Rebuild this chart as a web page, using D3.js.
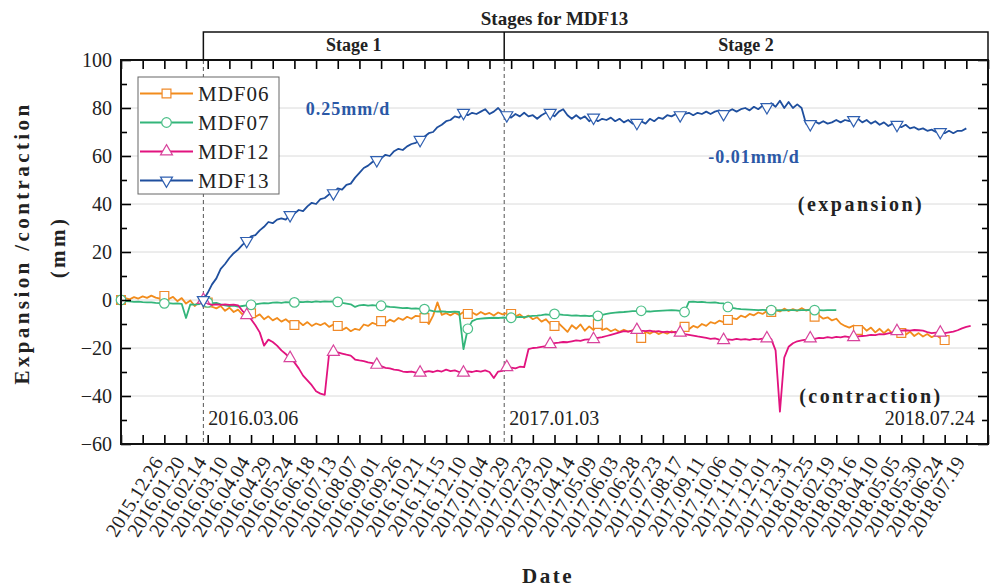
<!DOCTYPE html>
<html>
<head>
<meta charset="utf-8">
<script src="https://cdn.jsdelivr.net/npm/d3@7"></script>
<style>
  body { margin: 0; background: #fff; }
  text { font-family: "Liberation Serif", "Times New Roman", serif; }
</style>
</head>
<body>
<script>
// ---- data (one value every 5 days, day 0 = left edge of the axis) ----
var dayStep = 5;
var markerEvery = 10;   // one marker every 50 days

var xTickLabels = ["2015.12.26","2016.01.20","2016.02.14","2016.03.10","2016.04.04","2016.04.29",
  "2016.05.24","2016.06.18","2016.07.13","2016.08.07","2016.09.01","2016.09.26","2016.10.21",
  "2016.11.15","2016.12.10","2017.01.04","2017.01.29","2017.02.23","2017.03.20","2017.04.14",
  "2017.05.09","2017.06.03","2017.06.28","2017.07.23","2017.08.17","2017.09.11","2017.10.06",
  "2017.11.01","2017.12.01","2017.12.31","2018.01.25","2018.02.19","2018.03.16","2018.04.10",
  "2018.05.05","2018.05.30","2018.06.24","2018.07.19"];
var firstLabelTick = 2;

var yMajor = [-60, -40, -20, 0, 20, 40, 60, 80, 100];
var yMinor = [-50, -30, -10, 10, 30, 50, 70, 90];

var stageNames = ["Stage 1", "Stage 2"];
var stageDays = [95, 442];
var stageDates = ["2016.03.06", "2017.01.03"];
var endDate = "2018.07.24";

var mdf06Start = 0;
var mdf06 = [
  0, 0.8, 0.3, 1.2, 0.6, 1.5, 0.9, 1.8, 1, 0.6,
  1.7, 0.4, 1.3, -0.5, 0.8, -1.5, -0.2, -2.5, -0.8, -2,
  -1, -2.8, -3.5, -2.5, -4.5, -3.2, -5, -4, -6, -4.8,
  -5.5, -7, -6, -8, -6.8, -8.5, -7.5, -9, -8, -9.5,
  -10.4, -9, -10.5, -9.2, -10.8, -9.8, -10.5, -9.6, -11.2, -10.2,
  -10.8, -12.5, -11.5, -13, -12, -12.5, -10.2, -10.8, -9.5, -10.2,
  -8.8, -9.6, -8.2, -9, -7.5, -8.3, -7, -7.8, -6.6, -6.8,
  -7.5, -10, -6.5, -1, -6.2, -5.5, -6.4, -5.3, -6.2, -5,
  -5.8, -5.2, -6.2, -5, -6, -5.4, -6.5, -5.2, -6, -5.5,
  -5.8, -6.8, -6, -7.5, -6.5, -8, -7.2, -9, -8, -10,
  -10.8, -9.8, -11.5, -13.3, -10.5, -12, -10.2, -12.8, -11, -12.5,
  -10, -12.5, -11.8, -13, -12.2, -13.3, -12.4, -13.2, -12.6, -13.5,
  -15.8, -13.2, -14, -13, -14.2, -13.4, -14, -13, -13.8, -12.5,
  -11.2, -12.2, -10.8, -11.5, -10, -10.8, -9.2, -9.8, -8.6, -9.2,
  -8.3, -7.6, -8, -6.5, -7.2, -5.8, -6.4, -5.2, -5.8, -4.6,
  -5, -4.2, -4.8, -3.6, -4.6, -3.8, -4.5, -3.4, -4.4, -3.9,
  -7, -6.5, -7.8, -7.2, -8.5, -7.8, -9.8, -10.8, -11.5, -10.6,
  -12.5, -11, -12.8, -11.5, -13.5, -12, -13.8, -12.2, -14, -12.8,
  -13.75, -14.5, -13.2, -15, -13.8, -15.2, -14.2, -15.5, -14.6, -15.8,
  -16.7, -15.5
];

var mdf07Start = 0;
var mdf07 = [
  0, -0.5, -0.6, -0.8, -0.7, -0.9, -1, -1, -1.2, -1.3,
  -1.4, -1.3, -1.5, -1.4, -1.6, -7.5, -1.8, -1.9, -1.7, -0.8,
  -1, -1.3, -1.2, -1.8, -2.2, -2.5, -2.3, -2.8, -2.5, -2.2,
  -2, -1.8, -1.5, -1.3, -1.4, -1.1, -1, -1.2, -0.9, -1,
  -1, -0.8, -0.9, -0.7, -0.9, -0.6, -0.8, -0.6, -0.7, -0.6,
  -0.8, -1.2, -1.5, -1.8, -2.9, -2.2, -2, -2.3, -2.1, -2.3,
  -2.4, -2.6, -2.9, -3, -3.2, -3.4, -3.3, -3.6, -3.5, -3.7,
  -3.8, -4.2, -4.6, -4.8, -4.7, -4.9, -5, -4.8, -5, -20.5,
  -12, -8.8, -8, -7.8, -7.6, -7.5, -7.4, -7.5, -7.3, -7.4,
  -7.4, -7.2, -7, -7.1, -6.8, -6.6, -6.5, -6.3, -6, -6.2,
  -5.8, -6, -6.2, -6.3, -6.5, -6.4, -6.6, -6.5, -6.7, -6.5,
  -6.6, -6.2, -5.8, -5.5, -5.3, -5.1, -5, -4.8, -4.6, -4.6,
  -4.5, -4.7, -4.8, -4.6, -4.5, -4.4, -4.3, -4.2, -4.3, -4.5,
  -5, -0.8, -0.7, -0.9, -0.8, -1, -1.1, -1, -1.3, -1.4,
  -2.9, -3.3, -3.6, -3.8, -3.9, -4, -4.1, -4.2, -4.1, -4.2,
  -4.2, -4.3, -4.2, -4.3, -4.2, -4.2, -4.3, -4.2, -4.2, -4.1,
  -4.2, -4.2, -4.3, -4.2, -4.2, -4.2
];

var mdf12Start = 95;
var mdf12 = [
  0, -1.5, -2, -1.8, -2, -1.8, -2, -1.9, -2.2, -4.5,
  -6.3, -8, -10.5, -13.5, -19, -16.5, -17.5, -19, -21, -22.5,
  -24.2, -26, -28.5, -31.5, -33.5, -35.5, -38, -39, -39.5, -22.5,
  -21.6, -21.8, -22.3, -22.8, -23.2, -24.8, -25.2, -25.5, -26, -26.3,
  -27, -27.5, -28.3, -28.5, -29, -29.2, -29.8, -30, -29.8, -30.3,
  -30.3, -30, -29.6, -30, -29.4, -29.8, -29, -29.6, -29.3, -30,
  -30.3, -29.7, -30, -29.5, -29.8, -29.3, -30, -32.5, -29.8, -29.5,
  -28, -28.2, -28.5, -27.8, -28, -20.5, -20, -19.8, -19.5, -19.2,
  -18.4, -18, -17.8, -17.5, -17.6, -17.2, -16.8, -17, -16.5, -16.4,
  -16.3, -15.8, -15.5, -15, -14.5, -14, -13.5, -13, -13.2, -12.8,
  -12.5, -12.8, -13, -12.8, -13.2, -13, -13.4, -13.2, -13.5, -13.3,
  -13.6, -14.2, -14.5, -14.8, -15.2, -15.5, -15.8, -16.2, -16, -16.5,
  -16.7, -16.4, -16.6, -16.2, -16.5, -16.3, -16.6, -16.2, -16.4, -16.1,
  -16, -16.3, -21, -46.5, -24, -19.5, -18, -17.2, -16.8, -16.5,
  -16, -16.2, -15.8, -15.9, -15.5, -15.8, -15.4, -15.6, -15.2, -15.5,
  -15.5, -15.2, -15, -14.8, -14.5, -14.6, -14.2, -14.3, -13.9, -13.6,
  -13, -12.8, -12.6, -12.8, -12.5, -12.6, -12.8, -13.4, -13.8, -13.6,
  -13.6, -13.8, -13.5, -13.2, -12.6, -11.8, -11.2, -10.8
];

var mdf13Start = 95;
var mdf13 = [
  0, 3, 6.5, 9, 13, 15, 17.5, 19.5, 21, 23,
  24.6, 26.5, 27, 29, 30.5, 32.5, 32, 33.5, 34, 33.5,
  35.4, 36, 37.5, 37, 39, 40.5, 40, 42, 42.5, 44,
  44.5, 46.5, 46, 48, 48.5, 51, 53, 55, 56, 57.5,
  58.3, 59, 60.5, 60, 62, 63, 62.5, 64, 65, 65.5,
  66.7, 68, 69.5, 70, 72, 73, 74.5, 75, 76.5, 76,
  78, 77, 78, 77.5, 78.5, 79.5, 77.5, 78.5, 80, 78,
  77, 76, 77.5, 76.5, 78, 76.5, 77, 75.5, 77, 78,
  78, 76.5, 78.5, 79.5, 77, 75.5, 77, 75.5, 76.5, 74.5,
  76, 74.5, 75.5, 75, 76, 74.5, 75.5, 74, 75, 73.5,
  73.8, 74.5, 73.5, 75.5, 74.5, 76, 75.5, 77, 76.5, 77.5,
  77, 77.5, 78, 77, 78, 77.5, 78.5, 77.5, 78.5, 79,
  77.5, 78.5, 79.5, 78.5, 79.5, 80, 79, 80.5, 79.5, 81,
  80.4, 82, 80.5, 83, 80, 82.5, 80, 81.5, 80, 73.5,
  73.3, 74.5, 73.5, 74.5, 73.5, 74, 75, 74, 75, 74.5,
  75, 75.5, 74, 75, 73.5, 74.5, 73, 74, 72.5, 73.5,
  73, 72, 73, 71.5, 72, 71, 71.5, 70.5, 71, 70,
  70, 69.5, 70.5, 69.5, 70.5, 70.5, 71.5
];

var seriesNames = ["MDF06", "MDF07", "MDF12", "MDF13"];
var seriesColors = ["#f28c1c", "#33b57a", "#e2137f", "#1f4f9e"];
var markerColors = ["#f08a2a", "#4cbf88", "#d8449c", "#2f5fb0"];

var series = [
  {name: seriesNames[0], start: mdf06Start, values: mdf06, color: seriesColors[0], marker: markerColors[0], shape: d3.symbolSquare, size: 78, rot: 0},
  {name: seriesNames[1], start: mdf07Start, values: mdf07, color: seriesColors[1], marker: markerColors[1], shape: d3.symbolCircle, size: 72, rot: 0},
  {name: seriesNames[2], start: mdf12Start, values: mdf12, color: seriesColors[2], marker: markerColors[2], shape: d3.symbolTriangle, size: 62, rot: 0},
  {name: seriesNames[3], start: mdf13Start, values: mdf13, color: seriesColors[3], marker: markerColors[3], shape: d3.symbolTriangle, size: 62, rot: 180}
];

// ---- layout ----
var width = 993;
var height = 587;

var x = d3.scaleLinear().domain([0, 1000]).range([121, 988]);
var y = d3.scaleLinear().domain([-60, 100]).range([444, 60]);

var svg = d3.select("body").append("svg")
            .attr("width", width)
            .attr("height", height);

svg.append("rect").attr("width", width).attr("height", height).attr("fill", "#fff");

// horizontal grid
svg.append("g").selectAll("line")
   .data(yMajor.slice(1, -1))
   .enter().append("line")
   .attr("x1", x.range()[0]).attr("x2", x.range()[1])
   .attr("y1", function(d){ return y(d); })
   .attr("y2", function(d){ return y(d); })
   .attr("stroke", "#dadada")
   .attr("stroke-width", 1);

// stage boundaries
svg.append("g").selectAll("line")
   .data(stageDays)
   .enter().append("line")
   .attr("x1", function(d){ return x(d); })
   .attr("x2", function(d){ return x(d); })
   .attr("y1", y.range()[1]).attr("y2", y.range()[0])
   .attr("stroke", "#555")
   .attr("stroke-width", 1)
   .attr("stroke-dasharray", "4,3");

svg.append("g").selectAll("text")
   .data(stageDates)
   .enter().append("text")
   .attr("x", function(d, i){ return x(stageDays[i]) + 5; })
   .attr("y", 425)
   .attr("font-size", 20)
   .attr("fill", "#222")
   .text(function(d){ return d; });

var lastDay = mdf12Start + (mdf12.length - 1) * dayStep;
svg.append("text")
   .attr("x", x(lastDay) + 4)
   .attr("y", 425)
   .attr("text-anchor", "end")
   .attr("font-size", 20)
   .attr("fill", "#222")
   .text(endDate);

// series
var line = d3.line()
             .x(function(d){ return x(d[0]); })
             .y(function(d){ return y(d[1]); });

series.forEach(function(s){
  var pts = s.values.map(function(v, i){ return [s.start + i * dayStep, v]; });

  svg.append("path")
     .datum(pts)
     .attr("d", line)
     .attr("fill", "none")
     .attr("stroke", s.color)
     .attr("stroke-width", 1.8)
     .attr("stroke-linejoin", "round");

  svg.append("g").selectAll("path")
     .data(pts.filter(function(d, i){ return i % markerEvery === 0; }))
     .enter().append("path")
     .attr("d", d3.symbol().type(s.shape).size(s.size))
     .attr("transform", function(d){ return "translate(" + x(d[0]) + "," + y(d[1]) + ") rotate(" + s.rot + ")"; })
     .attr("fill", "#fff")
     .attr("stroke", s.marker)
     .attr("stroke-width", 1.2);
});

// axes
var xTicks = d3.range(0, 1001, 25);

var xAxis = svg.append("g")
   .attr("transform", "translate(0," + y.range()[0] + ")")
   .call(d3.axisBottom(x).tickValues(xTicks).tickSize(-9)
           .tickFormat(function(d, i){
             var k = i - firstLabelTick;
             return (k >= 0 && k < xTickLabels.length) ? xTickLabels[k] : "";
           }));
xAxis.select(".domain").remove();
xAxis.attr("font-family", null).attr("font-size", 20);
xAxis.selectAll("line").attr("stroke-width", 1.6);
xAxis.selectAll("text")
     .attr("y", 0).attr("dy", null)
     .attr("text-anchor", "end")
     .attr("fill", "#222")
     .attr("transform", "translate(-1,18) rotate(-58)");

var xTop = svg.append("g")
   .attr("transform", "translate(0," + y.range()[1] + ")")
   .call(d3.axisTop(x).tickValues(xTicks).tickSize(-9).tickFormat(""));
xTop.select(".domain").remove();
xTop.selectAll("line").attr("stroke-width", 1.6);

var yAxis = svg.append("g")
   .attr("transform", "translate(" + x.range()[0] + ",0)")
   .call(d3.axisLeft(y).tickValues(yMajor).tickSize(-10).tickPadding(9).tickFormat(d3.format("d")));
yAxis.select(".domain").remove();
yAxis.attr("font-family", null).attr("font-size", 20);
yAxis.selectAll("line").attr("stroke-width", 1.6);
yAxis.selectAll("text").attr("fill", "#222").attr("dy", "0.34em");

var yAxisMinor = svg.append("g")
   .attr("transform", "translate(" + x.range()[0] + ",0)")
   .call(d3.axisLeft(y).tickValues(yMinor).tickSize(-6).tickFormat(""));
yAxisMinor.select(".domain").remove();
yAxisMinor.selectAll("line").attr("stroke-width", 1.6);

var yRight = svg.append("g")
   .attr("transform", "translate(" + x.range()[1] + ",0)")
   .call(d3.axisRight(y).tickValues(yMajor).tickSize(-10).tickFormat(""));
yRight.select(".domain").remove();
yRight.selectAll("line").attr("stroke-width", 1.6);

var yRightMinor = svg.append("g")
   .attr("transform", "translate(" + x.range()[1] + ",0)")
   .call(d3.axisRight(y).tickValues(yMinor).tickSize(-6).tickFormat(""));
yRightMinor.select(".domain").remove();
yRightMinor.selectAll("line").attr("stroke-width", 1.6);

// frame
svg.append("rect")
   .attr("x", x.range()[0]).attr("y", y.range()[1])
   .attr("width", x.range()[1] - x.range()[0])
   .attr("height", y.range()[0] - y.range()[1])
   .attr("fill", "none")
   .attr("stroke", "#111")
   .attr("stroke-width", 2);

// stage header
var headTop = 32;
var stageEdges = [x(stageDays[0]), x(stageDays[1]), x.range()[1]];

svg.append("path")
   .attr("d", "M" + stageEdges[0] + "," + y.range()[1] + "V" + headTop + "H" + stageEdges[2] + "V" + y.range()[1]
         + "M" + stageEdges[1] + "," + headTop + "V" + y.range()[1])
   .attr("fill", "none")
   .attr("stroke", "#111")
   .attr("stroke-width", 1.5);

svg.append("g").selectAll("text")
   .data(stageNames)
   .enter().append("text")
   .attr("x", function(d, i){ return (stageEdges[i] + stageEdges[i + 1]) / 2; })
   .attr("y", 51)
   .attr("text-anchor", "middle")
   .attr("font-size", 18)
   .attr("font-weight", "bold")
   .attr("fill", "#222")
   .text(function(d){ return d; });

svg.append("text")
   .attr("x", (x.range()[0] + x.range()[1]) / 2)
   .attr("y", 25)
   .attr("text-anchor", "middle")
   .attr("font-size", 19)
   .attr("font-weight", "bold")
   .attr("fill", "#222")
   .text("Stages for MDF13");

// axis titles
svg.append("text")
   .attr("transform", "translate(29,243) rotate(-90)")
   .attr("text-anchor", "middle")
   .attr("font-size", 21)
   .attr("font-weight", "bold")
   .attr("letter-spacing", 3.4)
   .attr("fill", "#222")
   .text("Expansion /contraction");

svg.append("text")
   .attr("transform", "translate(65,247) rotate(-90)")
   .attr("text-anchor", "middle")
   .attr("font-size", 21)
   .attr("font-weight", "bold")
   .attr("letter-spacing", 3.4)
   .attr("fill", "#222")
   .text("(mm)");

svg.append("text")
   .attr("x", 548).attr("y", 583)
   .attr("text-anchor", "middle")
   .attr("font-size", 21)
   .attr("font-weight", "bold")
   .attr("letter-spacing", 2.5)
   .attr("fill", "#222")
   .text("Date");

// annotations
svg.append("text")
   .attr("x", 348).attr("y", 115)
   .attr("text-anchor", "middle")
   .attr("font-size", 18).attr("font-weight", "bold")
   .attr("letter-spacing", 1)
   .attr("fill", "#2b58a6")
   .text("0.25mm/d");

svg.append("text")
   .attr("x", 754).attr("y", 163)
   .attr("text-anchor", "middle")
   .attr("font-size", 18).attr("font-weight", "bold")
   .attr("letter-spacing", 1)
   .attr("fill", "#2b58a6")
   .text("-0.01mm/d");

svg.append("text")
   .attr("x", 861).attr("y", 211)
   .attr("text-anchor", "middle")
   .attr("font-size", 20).attr("font-weight", "bold")
   .attr("letter-spacing", 2.5)
   .attr("fill", "#222")
   .text("(expansion)");

svg.append("text")
   .attr("x", 871).attr("y", 403)
   .attr("text-anchor", "middle")
   .attr("font-size", 20).attr("font-weight", "bold")
   .attr("letter-spacing", 2.5)
   .attr("fill", "#222")
   .text("(contraction)");

// legend
var legend = svg.append("g").attr("transform", "translate(138,77)");
legend.append("rect")
      .attr("width", 141).attr("height", 117)
      .attr("fill", "#fff")
      .attr("stroke", "#666")
      .attr("stroke-width", 1);

var item = legend.selectAll("g.item")
      .data(series)
      .enter().append("g")
      .attr("class", "item")
      .attr("transform", function(d, i){ return "translate(0," + (16.5 + i * 29) + ")"; });

item.append("line")
    .attr("x1", 2).attr("x2", 55)
    .attr("stroke", function(d){ return d.color; })
    .attr("stroke-width", 1.8);

item.append("path")
    .attr("d", function(d){ return d3.symbol().type(d.shape).size(d.size)(); })
    .attr("transform", function(d){ return "translate(28.5,0) rotate(" + d.rot + ")"; })
    .attr("fill", "#fff")
    .attr("stroke", function(d){ return d.marker; })
    .attr("stroke-width", 1.2);

item.append("text")
    .attr("x", 60).attr("y", 7)
    .attr("font-size", 21)
    .attr("letter-spacing", 1)
    .attr("fill", "#222")
    .text(function(d){ return d.name; });
</script>
</body>
</html>
